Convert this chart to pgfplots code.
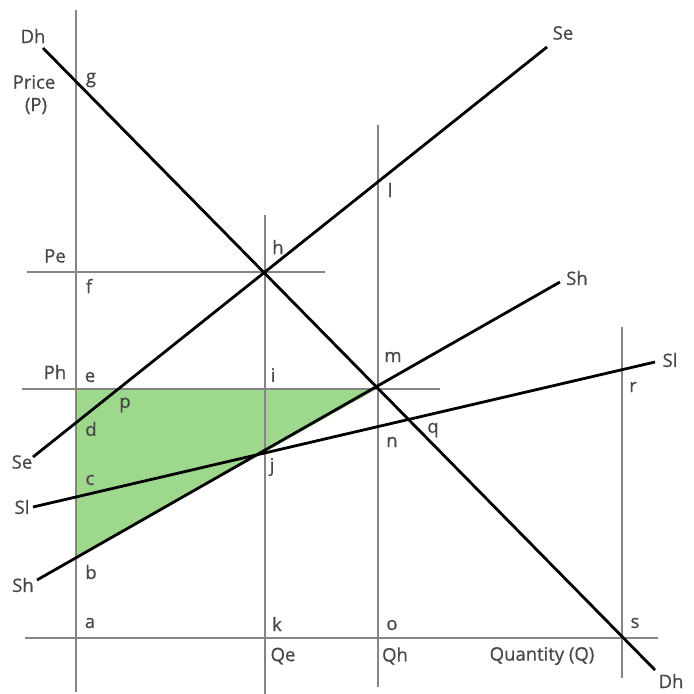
\documentclass[border=0pt]{standalone}
\usepackage{pgfplots}
\pgfplotsset{compat=1.18}
\usepackage{fontspec}
\setmainfont{Open Sans}
\newfontfamily\labfont{Open Sans}[FakeBold=0.7]
\definecolor{gl}{HTML}{858585}
\definecolor{txt}{HTML}{484848}
\definecolor{fillg}{HTML}{9ED88C}
\tikzset{lab/.style={text=txt, font=\labfont\fontsize{18.5bp}{21bp}\selectfont, inner sep=0pt}}
\begin{document}
\begin{tikzpicture}
\begin{axis}[scale only axis, width=694bp, height=694bp,
  xmin=0, xmax=694, ymin=0, ymax=694, y dir=reverse,
  hide axis, clip=false]
\coordinate (ll) at (axis cs:0,694);
\coordinate (ur) at (axis cs:694,0);
% shaded triangle
\addplot[draw=none, fill=fillg] coordinates {(76,389) (377,389) (76,558)} -- cycle;
% gray reference lines
\addplot[gl, line width=2.6bp] coordinates {(76,10) (76,692)};
\addplot[gl, line width=2.6bp] coordinates {(25,638) (658,638)};
\addplot[gl, line width=2.6bp] coordinates {(265,215) (265,694)};
\addplot[gl, line width=2.6bp] coordinates {(378,125) (378,687)};
\addplot[gl, line width=2.6bp] coordinates {(622,327) (622,678)};
\addplot[gl, line width=2.6bp] coordinates {(27,272) (325,272)};
\addplot[gl, line width=2.6bp] coordinates {(22,389) (440,389)};
% demand and supply curves
\addplot[black, line width=2.8bp] coordinates {(43,48) (655,670)};
\addplot[black, line width=2.8bp] coordinates {(33,457) (547,47)};
\addplot[black, line width=2.8bp] coordinates {(37,580) (560,282)};
\addplot[black, line width=2.8bp] coordinates {(33,507) (655,362)};
% labels
\node[lab] at (axis cs:33,36) {Dh};
\node[lab] at (axis cs:34,82) {Price};
\node[lab] at (axis cs:36,106) {(P)};
\node[lab] at (axis cs:91,80) {g};
\node[lab] at (axis cs:563,33) {Se};
\node[lab] at (axis cs:390,190) {l};
\node[lab] at (axis cs:278,247) {h};
\node[lab] at (axis cs:55,256) {Pe};
\node[lab] at (axis cs:89,286) {f};
\node[lab] at (axis cs:577,278) {Sh};
\node[lab] at (axis cs:393,357) {m};
\node[lab] at (axis cs:55,372) {Ph};
\node[lab] at (axis cs:90,377) {e};
\node[lab] at (axis cs:273,375) {i};
\node[lab] at (axis cs:670,360) {Sl};
\node[lab] at (axis cs:633,387) {r};
\node[lab] at (axis cs:125,405) {p};
\node[lab] at (axis cs:91,429) {d};
\node[lab] at (axis cs:433,430) {q};
\node[lab] at (axis cs:392,442) {n};
\node[lab] at (axis cs:22,462) {Se};
\node[lab] at (axis cs:90,480) {c};
\node[lab] at (axis cs:272,467) {j};
\node[lab] at (axis cs:22,507) {Sl};
\node[lab] at (axis cs:91,572) {b};
\node[lab] at (axis cs:23,585) {Sh};
\node[lab] at (axis cs:90,623) {a};
\node[lab] at (axis cs:277,624) {k};
\node[lab] at (axis cs:392,625) {o};
\node[lab] at (axis cs:635,623) {s};
\node[lab] at (axis cs:283,656) {Qe};
\node[lab] at (axis cs:395,656) {Qh};
\node[lab] at (axis cs:542,656) {Quantity (Q)};
\node[lab] at (axis cs:671,681) {Dh};
\end{axis}
\pgfresetboundingbox
\path (ll) rectangle (ur);
\end{tikzpicture}
\end{document}
